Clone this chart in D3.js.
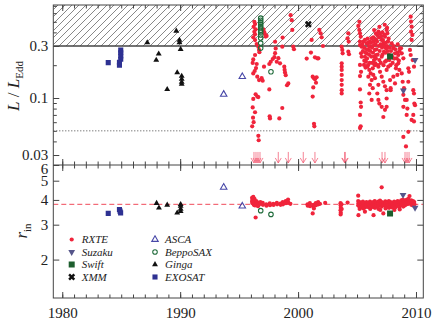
<!DOCTYPE html>
<html>
<head>
<meta charset="utf-8">
<script src="https://cdn.jsdelivr.net/npm/d3@7"></script>
<style>
  body { margin: 0; background: #fff; }
  svg text { font-family: "Liberation Serif", "DejaVu Serif", serif; fill: #222; }
</style>
</head>
<body>
<div id="chart"></div>
<script>

// ---- data ----
var xMajor = [1980, 1990, 2000, 2010];
var lMajor = [0.03, 0.1, 0.3];
var lMinor = [0.04, 0.05, 0.06, 0.07, 0.08, 0.09, 0.2, 0.4, 0.5, 0.6, 0.7];
var rMajor = [2, 3, 4, 5, 6];
var eddLimit = 0.3, dotted = 0.05, rRef = 3.8;

// top panel: [year, L/LEdd]
var rxteTop = [
  [1996.29,0.50],[1996.35,0.477],[1996.23,0.45],[1996.40,0.427],[1996.29,0.405],[1996.35,0.384],[1996.20,0.36],[1996.35,0.34],
  [1996.49,0.313],[1996.63,0.296],[1996.69,0.276],[1996.72,0.263],[1996.35,0.248],[1996.20,0.226],[1996.15,0.21],[1996.49,0.205],
  [1996.43,0.188],[1996.32,0.177],[1996.20,0.168],[1996.54,0.157],[1996.69,0.146],[1996.40,0.108],[1996.20,0.098],[1996.54,0.103],
  [1996.63,0.102],[1996.15,0.082],[1996.35,0.074],[1996.18,0.066],[1996.23,0.06],[1996.11,0.055],[1996.63,0.045],[1996.66,0.041],
  [1997.05,0.427],[1997.13,0.403],[1997.19,0.386],[1997.25,0.366],[1997.33,0.371],[1996.91,0.152],[1997.0,0.144],[1997.11,0.194],
  [1997.56,0.205],[1997.68,0.215],[1997.85,0.228],[1997.99,0.237],[1998.05,0.258],[1998.10,0.285],[1998.05,0.328],[1998.19,0.215],
  [1998.33,0.232],[1998.47,0.208],[1997.56,0.12],[1997.59,0.068],[1997.62,0.065],[1998.41,0.065],[1998.66,0.081],[1998.66,0.296],
  [1998.69,0.358],[1999.37,0.575],[1999.46,0.517],[1999.51,0.421],[1999.59,0.296],[1999.65,0.28],[1998.83,0.194],[1998.86,0.181],
  [1998.89,0.171],[1998.95,0.162],[1999.06,0.131],[1999.17,0.136],
  [2001.15,0.341],[2001.09,0.261],[2000.73,0.23],[2001.43,0.236],[2001.63,0.231],[2001.72,0.231],[2001.80,0.421],[2001.91,0.392],
  [2002.0,0.36],[2002.11,0.30],[2001.24,0.157],[2001.35,0.152],[2001.43,0.149],[2001.57,0.155],[2001.52,0.138],[2001.29,0.125],
  [2001.24,0.103],[2001.35,0.058],[2001.38,0.055],
  [2003.70,0.296],[2003.75,0.276],[2003.78,0.257],[2003.70,0.208],[2003.70,0.194],[2003.70,0.181],[2003.70,0.163],[2003.70,0.146],
  [2003.70,0.132],[2003.70,0.118],[2003.70,0.110],[2004.26,0.392],[2004.20,0.353],[2004.29,0.329],[2004.26,0.266],[2004.32,0.252],
  [2005.11,0.458],[2005.19,0.421],[2005.25,0.392],[2005.31,0.365],[2005.25,0.329],[2005.25,0.306],[2005.39,0.296],[2005.34,0.257],
  [2005.39,0.239],[2005.25,0.201],[2005.34,0.174],[2005.25,0.159],[2005.25,0.12],[2005.31,0.091],[2005.34,0.083],[2005.25,0.070],
  [2005.31,0.055],[2005.25,0.053],[2005.53,0.329],[2005.67,0.341],[2005.82,0.317],[2005.96,0.322],[2006.10,0.329],[2006.24,0.353],
  [2006.10,0.296],[2005.96,0.276],[2005.82,0.257],[2005.67,0.239],[2005.76,0.215],[2005.59,0.201],[2005.87,0.194],[2006.04,0.181],
  [2006.16,0.168],[2005.96,0.157],[2006.24,0.146],[2006.10,0.132],[2006.33,0.123],[2006.04,0.110],[2006.24,0.096],[2006.38,0.36],
  [2006.44,0.306],[2006.52,0.276],[2006.61,0.248],[2006.44,0.223],[2006.55,0.208],[2006.33,0.187],[2006.38,0.163],[2006.52,0.152],
  [2006.61,0.345],[2006.72,0.379],[2006.81,0.406],[2006.95,0.392],[2007.09,0.341],[2007.23,0.317],[2007.37,0.365],[2007.51,0.421],
  [2007.57,0.392],[2007.63,0.329],[2007.46,0.286],[2007.29,0.266],[2007.09,0.239],[2006.89,0.223],[2006.81,0.194],[2006.95,0.174],
  [2007.09,0.157],[2007.23,0.141],[2007.37,0.128],[2007.51,0.118],[2006.81,0.132],[2006.72,0.110],[2006.81,0.096],[2006.89,0.089],
  [2007.09,0.083],[2007.37,0.078],[2007.23,0.067],[2007.51,0.099],[2007.65,0.194],[2007.74,0.223],[2007.37,0.215],[2007.51,0.181],
  [2007.80,0.146],[2007.85,0.123],[2007.51,0.083],[2007.94,0.317],[2008.08,0.286],[2008.22,0.257],[2008.36,0.231],[2008.50,0.208],
  [2008.59,0.181],[2008.42,0.163],[2008.64,0.286],[2008.50,0.248],[2008.30,0.187],[2008.08,0.157],[2008.22,0.136],[2007.85,0.118],
  [2008.73,0.286],[2008.79,0.257],[2008.93,0.231],[2008.79,0.168],[2008.87,0.141],[2008.98,0.123],[2008.93,0.107],[2009.07,0.096],
  [2008.93,0.083],[2009.21,0.096],[2009.27,0.080],[2009.21,0.070],[2009.35,0.049],[2009.15,0.036],[2008.93,0.044],[2009.55,0.557],
  [2009.58,0.502],[2009.63,0.451],[2009.58,0.406],[2009.69,0.379],[2009.63,0.341],[2009.49,0.276],[2009.55,0.248],[2009.35,0.187],
  [2009.41,0.174],[2009.35,0.141],[2009.77,0.118],[2009.83,0.110],[2009.86,0.089],[2009.92,0.086],[2009.77,0.070],[2009.63,0.063],
  [2009.83,0.061],[2009.72,0.223],[2009.83,0.194],
  [2005.45,0.31],[2005.5,0.27],[2005.6,0.29],[2005.62,0.22],[2005.7,0.26],[2005.72,0.19],[2005.8,0.28],[2005.85,0.23],[2005.9,0.35],
  [2005.93,0.2],[2006.0,0.3],[2006.02,0.25],[2006.07,0.21],[2006.12,0.27],[2006.18,0.32],[2006.2,0.24],[2006.27,0.29],[2006.3,0.21],
  [2006.35,0.26],[2006.4,0.33],[2006.47,0.24],[2006.5,0.2],[2006.57,0.31],[2006.6,0.23],[2006.65,0.28],[2006.7,0.33],[2006.75,0.25],
  [2006.78,0.2],[2006.85,0.3],[2006.88,0.36],[2006.92,0.27],[2007.0,0.31],[2007.02,0.21],[2007.05,0.37],[2007.12,0.29],[2007.15,0.25],
  [2007.2,0.34],[2007.25,0.2],[2007.3,0.3],[2007.33,0.38],[2007.4,0.26],[2007.42,0.32],[2007.48,0.22],[2007.55,0.3],[2007.6,0.27],
  [2007.68,0.35],[2007.7,0.25],[2007.77,0.29],[2007.82,0.2],[2007.88,0.27],[2007.97,0.24],[2008.02,0.21],[2008.1,0.3],[2008.15,0.23],
  [2008.25,0.28],[2008.33,0.2],[2008.4,0.26],[2008.45,0.31],[2008.55,0.22],[2008.6,0.27],
  [2006.45,0.42],[2006.9,0.45],[2007.35,0.47],[2007.15,0.4],[2006.6,0.39],[2007.55,0.44],[2005.2,0.5]
];
// upper limits (years), all at the same L
var rxteLimits = [1996.26,1996.43,1996.6,1996.77,1998.32,1999.17,2000.44,2001.43,2003.95,2004.0,2007.12,2007.37,2009.07,2009.24,2009.41];
var limitL = 0.032;

var suzakuTop = [[2009.92,0.223],[2008.93,0.117]];
var swiftTop = [[2007.8,0.24]];
var xmmTop = [[2000.87,0.474]];
var ascaTop = [[1993.69,0.108],[1995.27,0.157]];
var beppoTop = [[1996.83,0.54],[1996.83,0.517],[1996.83,0.496],[1996.83,0.477],[1996.83,0.458],[1996.83,0.44],[1996.83,0.42],
  [1996.83,0.403],[1996.83,0.379],[1996.83,0.355],[1996.83,0.319],[1996.83,0.287],[1997.7,0.174]];
var gingaTop = [[1987.21,0.322],[1989.67,0.412],[1989.94,0.34],[1989.94,0.322],[1990.04,0.28],[1988.18,0.254],[1987.97,0.223],
  [1989.75,0.171],[1990.13,0.159],[1990.13,0.149],[1990.13,0.140],[1990.13,0.134],[1988.9,0.120]];
var exosatTop = [[1983.9,0.211],[1984.96,0.275],[1984.96,0.26],[1984.96,0.243],[1984.96,0.227],[1984.85,0.213],[1984.85,0.20]];

// bottom panel: [year, r_in]
var rxteBot = [
  [1996.1,4.1],[1996.12,4.0],[1996.1,3.92],[1996.14,3.85],[1996.2,4.15],[1996.22,3.95],[1996.2,3.88],[1996.24,3.78],
  [1996.3,4.05],[1996.32,3.9],[1996.3,3.82],[1996.34,3.75],[1996.4,3.26],[1996.45,3.95],[1996.47,3.85],[1996.45,3.8],
  [1996.6,3.88],[1996.62,3.78],[1996.6,3.72],[1996.8,3.9],[1996.82,3.82],[1997.0,3.86],[1997.02,3.78],[1997.3,3.8],
  [1997.32,3.74],[1997.6,3.84],[1997.62,3.76],[1997.9,3.82],[1997.92,3.77],[1998.2,3.86],[1998.22,3.8],[1998.5,3.83],
  [1998.52,3.78],[1998.7,3.9],[1998.72,3.8],[1998.95,3.95],[1998.97,3.85],[1999.15,4.02],[1999.17,3.88],[1999.35,3.82],
  [2000.8,3.8],[2000.82,3.74],[2001.0,3.85],[2001.02,3.72],[2001.24,3.42],[2001.3,3.78],[2001.32,3.7],[2001.34,3.62],
  [2001.5,3.85],[2001.52,3.76],[2001.7,3.9],[2001.72,3.8],[2001.85,3.82],[2002.3,3.86],
  [2003.6,3.85],[2003.61,3.75],[2003.62,3.65],[2003.6,3.55],[2003.62,3.45],[2003.61,3.38],[2003.68,3.8],[2003.7,3.6],[2004.2,3.88],
  [2005.1,4.2],[2005.1,3.95],[2005.12,3.85],[2005.1,3.75],[2005.12,3.35],[2005.2,3.9],[2005.22,3.8],[2005.2,3.7],[2005.22,3.6],
  [2005.35,3.88],[2005.37,3.78],[2005.35,3.68],[2005.5,3.92],[2005.52,3.82],[2005.5,3.72],[2005.52,3.62],
  [2005.65,3.85],[2005.67,3.76],[2005.65,3.66],[2005.67,3.49],[2005.8,3.9],[2005.82,3.8],[2005.8,3.7],
  [2005.95,3.87],[2005.97,3.77],[2005.95,3.68],[2006.1,3.92],[2006.12,3.83],[2006.1,3.73],[2006.12,3.6],
  [2006.25,3.86],[2006.27,3.78],[2006.25,3.7],[2006.38,3.9],[2006.4,3.8],[2006.38,3.68],[2006.4,3.35],
  [2006.5,3.95],[2006.52,3.84],[2006.5,3.75],[2006.52,3.65],[2006.65,3.88],[2006.67,3.79],[2006.65,3.7],
  [2006.8,3.92],[2006.82,3.82],[2006.8,3.72],[2006.82,3.6],[2006.95,3.97],[2006.97,3.86],[2006.95,3.76],[2006.97,3.56],
  [2007.09,4.63],[2007.1,3.9],[2007.12,3.8],[2007.1,3.7],[2007.23,3.87],[2007.25,3.77],[2007.23,3.42],
  [2007.4,3.93],[2007.42,3.83],[2007.4,3.74],[2007.42,3.62],[2007.55,3.88],[2007.57,3.78],[2007.55,3.68],
  [2007.7,3.95],[2007.72,3.85],[2007.7,3.75],[2007.72,3.65],[2007.85,3.9],[2007.87,3.8],[2007.85,3.7],
  [2008.0,3.86],[2008.02,3.76],[2008.0,3.66],[2008.15,3.92],[2008.17,3.82],[2008.15,3.72],[2008.17,3.56],
  [2008.3,3.88],[2008.32,3.78],[2008.3,3.68],[2008.45,3.95],[2008.47,3.84],[2008.45,3.74],
  [2008.6,3.9],[2008.62,3.8],[2008.6,3.7],[2008.62,3.58],[2008.75,3.98],[2008.77,3.86],[2008.75,3.76],
  [2008.9,4.02],[2008.92,3.9],[2008.9,3.8],[2008.92,3.7],[2009.05,3.95],[2009.07,3.85],[2009.05,3.75],
  [2009.2,4.0],[2009.22,3.9],[2009.2,3.8],[2009.35,4.05],[2009.37,3.92],[2009.35,3.82],
  [2009.45,4.18],[2009.47,3.96],[2009.45,3.86],[2009.6,3.98],[2009.62,3.88],[2009.6,3.78],
  [2009.75,3.95],[2009.77,3.85],[2009.75,3.75],[2009.85,3.9],[2009.87,3.8]
];
var suzakuBot = [[2008.9,4.24],[2009.92,3.65]];
var swiftBot = [[2007.8,3.42]];
var ascaBot = [[1993.69,4.63],[1995.27,3.72]];
var beppoBot = [[1996.83,3.53],[1997.7,3.38]];
var gingaBot = [[1988.0,3.85],[1988.2,3.65],[1988.9,3.77],[1989.75,3.44],[1990.04,3.72],[1990.04,3.6],[1990.04,3.5],[1990.04,3.8]];
var exosatBot = [[1983.9,3.42],[1984.85,3.58],[1984.9,3.51],[1984.95,3.44]];

var legendNames = ["RXTE", "Suzaku", "Swift", "XMM", "ASCA", "BeppoSAX", "Ginga", "EXOSAT"];

// ---- layout ----
var width = 436, height = 324;
var left = 53.3, right = 423.3;
var topY = 5, midY = 165, botY = 298;

var x = d3.scaleLinear().domain([1979.24, 2010.62]).range([left, right]);
var yTop = d3.scaleLog().domain([0.0243, 0.713]).range([midY, topY]);
var yBot = d3.scaleLog().domain([1.28, 6]).range([botY, midY]);

var red = "#f0243b";

var svg = d3.select("#chart").append("svg")
  .attr("width", width)
  .attr("height", height);

var defs = svg.append("defs");
var hatch = defs.append("pattern")
  .attr("id", "hatch")
  .attr("patternUnits", "userSpaceOnUse")
  .attr("width", 7).attr("height", 7);
hatch.append("path")
  .attr("d", "M-1,1 l2,-2 M0,7 l7,-7 M6,8 l2,-2")
  .attr("stroke", "#555").attr("stroke-width", 0.7);

defs.append("clipPath").attr("id", "clipTop").append("rect")
  .attr("x", left).attr("y", topY).attr("width", right - left).attr("height", midY - topY);
defs.append("clipPath").attr("id", "clipBot").append("rect")
  .attr("x", left).attr("y", midY).attr("width", right - left).attr("height", botY - midY);

var gTop = svg.append("g").attr("clip-path", "url(#clipTop)");
var gBot = svg.append("g").attr("clip-path", "url(#clipBot)");

// hatched zone above 0.3 LEdd
gTop.append("rect")
  .attr("x", left).attr("width", right - left)
  .attr("y", yTop(yTop.domain()[1]))
  .attr("height", yTop(eddLimit) - yTop(yTop.domain()[1]))
  .attr("fill", "url(#hatch)");
gTop.append("line")
  .attr("x1", left).attr("x2", right)
  .attr("y1", yTop(eddLimit)).attr("y2", yTop(eddLimit))
  .attr("stroke", "#444").attr("stroke-width", 1.4);
gTop.append("line")
  .attr("x1", left).attr("x2", right)
  .attr("y1", yTop(dotted)).attr("y2", yTop(dotted))
  .attr("stroke", "#333").attr("stroke-width", 0.9).attr("stroke-dasharray", "1,2");

gBot.append("line")
  .attr("x1", left).attr("x2", right)
  .attr("y1", yBot(rRef)).attr("y2", yBot(rRef))
  .attr("stroke", "#f04a5a").attr("stroke-width", 1).attr("stroke-dasharray", "5,3");

// marker styles: type, size, fill, stroke, rotation
var styles = {
  Suzaku: [d3.symbolTriangle, 20, "#55558a", null, 180],
  Swift: [d3.symbolSquare, 36, "#1d5e2e", null, 0],
  XMM: [d3.symbolCross, 30, "#111", null, 45],
  ASCA: [d3.symbolTriangle, 18, "none", "#4848a8", 0],
  BeppoSAX: [d3.symbolCircle, 16, "none", "#1f6b3a", 0],
  Ginga: [d3.symbolTriangle, 15, "#111", null, 0],
  EXOSAT: [d3.symbolSquare, 26, "#2e3192", null, 0]
};
function marker(sel, name) {
  var s = styles[name];
  return sel.append("path")
    .attr("d", d3.symbol().type(s[0]).size(s[1])())
    .attr("fill", s[2])
    .attr("stroke", s[3] || "none")
    .attr("stroke-width", s[3] ? 1.1 : 0);
}
function draw(name, g, data, yScale) {
  var rot = styles[name][4];
  g.selectAll(null).data(data).enter().call(function(e) {
    marker(e, name).attr("transform", function(d) {
      return "translate(" + x(d[0]) + "," + yScale(d[1]) + ")" + (rot ? " rotate(" + rot + ")" : "");
    });
  });
}
function drawDots(g, data, yScale) {
  g.selectAll(null).data(data).enter().append("circle")
    .attr("cx", function(d) { return x(d[0]); })
    .attr("cy", function(d) { return yScale(d[1]); })
    .attr("r", 2.1)
    .attr("fill", red);
}

// top panel
drawDots(gTop, rxteTop, yTop);
draw("EXOSAT", gTop, exosatTop, yTop);
draw("Ginga", gTop, gingaTop, yTop);
draw("ASCA", gTop, ascaTop, yTop);
draw("BeppoSAX", gTop, beppoTop, yTop);
draw("XMM", gTop, xmmTop, yTop);
draw("Swift", gTop, swiftTop, yTop);
draw("Suzaku", gTop, suzakuTop, yTop);

// upper limit arrows
gTop.selectAll(null).data(rxteLimits).enter().append("path")
  .attr("d", function(d) {
    var px = x(d), py = yTop(limitL);
    return "M" + px + "," + py + "V" + (py + 11) +
      "M" + (px - 3) + "," + (py + 6) + "L" + px + "," + (py + 11) + "L" + (px + 3) + "," + (py + 6);
  })
  .attr("fill", "none")
  .attr("stroke", "#f25a72")
  .attr("stroke-opacity", 0.75)
  .attr("stroke-width", 1);

// bottom panel
drawDots(gBot, rxteBot, yBot);
draw("EXOSAT", gBot, exosatBot, yBot);
draw("Ginga", gBot, gingaBot, yBot);
draw("ASCA", gBot, ascaBot, yBot);
draw("BeppoSAX", gBot, beppoBot, yBot);
draw("Swift", gBot, swiftBot, yBot);
draw("Suzaku", gBot, suzakuBot, yBot);

// ---- axes (all ticks point inward) ----
var years = d3.range(1980, 2011);
function tidy(g) {
  g.select(".domain").remove();
  g.selectAll("line").attr("stroke", "#444");
  g.selectAll("text").attr("font-size", 15).attr("fill", "#222");
}
function xAxes(y, maker, labels) {
  svg.append("g").attr("transform", "translate(0," + y + ")")
    .call(maker(x).tickValues(years).tickSize(-3.5).tickFormat("")).call(tidy);
  svg.append("g").attr("transform", "translate(0," + y + ")")
    .call(maker(x).tickValues(xMajor).tickSize(-6).tickPadding(9.5)
      .tickFormat(labels ? d3.format("d") : "")).call(tidy);
}
xAxes(topY, d3.axisTop, false);
xAxes(midY, d3.axisBottom, false);
xAxes(midY, d3.axisTop, false);
xAxes(botY, d3.axisBottom, true);

function yAxes(scale, major, minor, fmt) {
  [[left, d3.axisLeft, true], [right, d3.axisRight, false]].forEach(function(a) {
    if (minor) {
      svg.append("g").attr("transform", "translate(" + a[0] + ",0)")
        .call(a[1](scale).tickValues(minor).tickSize(-3.5).tickFormat("")).call(tidy);
    }
    svg.append("g").attr("transform", "translate(" + a[0] + ",0)")
      .call(a[1](scale).tickValues(major).tickSize(-6).tickPadding(5)
        .tickFormat(a[2] ? fmt : "")).call(tidy);
  });
}
yAxes(yTop, lMajor, lMinor, function(d) { return String(d); });
yAxes(yBot, rMajor, null, function(d) { return String(d); });
// the "6" label sits a little below its tick in the original
svg.selectAll("g.tick text").filter(function(d) { return d === 6; }).attr("dy", "0.55em");

// frame
svg.append("rect")
  .attr("x", left).attr("y", topY).attr("width", right - left).attr("height", botY - topY)
  .attr("fill", "none").attr("stroke", "#444").attr("stroke-width", 1);
svg.append("line")
  .attr("x1", left).attr("x2", right).attr("y1", midY).attr("y2", midY)
  .attr("stroke", "#444").attr("stroke-width", 1);

// axis titles
var t1 = svg.append("text")
  .attr("transform", "translate(19,86) rotate(-90)")
  .attr("text-anchor", "middle")
  .attr("font-size", 17);
t1.append("tspan").attr("font-style", "italic").text("L");
t1.append("tspan").text(" / ");
t1.append("tspan").attr("font-style", "italic").text("L");
t1.append("tspan").attr("font-size", 11).attr("dy", 4).text("Edd");

var t2 = svg.append("text")
  .attr("transform", "translate(27,231) rotate(-90)")
  .attr("text-anchor", "middle")
  .attr("font-size", 17);
t2.append("tspan").attr("font-style", "italic").text("r");
t2.append("tspan").attr("font-size", 11).attr("dy", 4).text("in");

// legend
var legX = [71.7, 155], legY = [239.5, 252, 264.5, 277];
var leg = svg.append("g");
legendNames.forEach(function(name, i) {
  var lx = legX[Math.floor(i / 4)], ly = legY[i % 4];
  if (name === "RXTE") {
    leg.append("circle").attr("cx", lx).attr("cy", ly).attr("r", 2.1).attr("fill", red);
  } else {
    var rot = styles[name][4];
    marker(leg, name).attr("transform", "translate(" + lx + "," + ly + ")" + (rot ? " rotate(" + rot + ")" : ""));
  }
  leg.append("text")
    .attr("x", lx + 10).attr("y", ly)
    .attr("dy", "0.35em")
    .attr("font-size", 11)
    .attr("font-style", "italic")
    .text(name);
});

</script>
</body>
</html>
